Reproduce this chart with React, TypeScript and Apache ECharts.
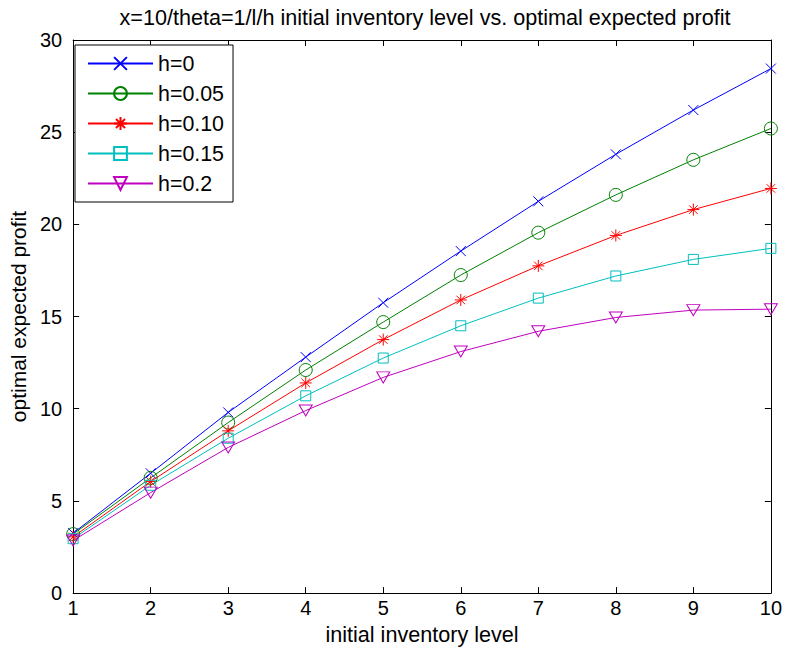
import { useEffect, useRef } from 'react';
import * as echarts from 'echarts';

const inventoryLevels = [1, 2, 3, 4, 5, 6, 7, 8, 9, 10];
const seriesNames = ['h=0', 'h=0.05', 'h=0.10', 'h=0.15', 'h=0.2'];
const profitH0 = [3.25, 6.5, 9.8, 12.8, 15.75, 18.55, 21.25, 23.8, 26.2, 28.45];
const profitH005 = [3.2, 6.25, 9.25, 12.1, 14.7, 17.25, 19.55, 21.6, 23.5, 25.2];
const profitH010 = [3.05, 6.05, 8.8, 11.4, 13.75, 15.9, 17.75, 19.4, 20.8, 21.95];
const profitH015 = [2.95, 5.85, 8.4, 10.7, 12.75, 14.5, 16.0, 17.2, 18.1, 18.7];
const profitH02 = [2.85, 5.45, 7.9, 9.9, 11.7, 13.1, 14.2, 14.95, 15.35, 15.4];

const FONT = 'Liberation Sans, Arial, sans-serif';

const X_SYM = 'path://M0,0L10,10M10,0L0,10';
const STAR_SYM = 'path://M5,0L5,10M0,5L10,5M1.46,1.46L8.54,8.54M8.54,1.46L1.46,8.54';
const TRI_SYM = 'path://M0,0L12,0L6,10.4Z';

export default function App() {
  const ref = useRef<HTMLDivElement>(null);
  useEffect(() => {
    const chart = echarts.init(ref.current!, null, { renderer: 'svg' });
    const allValues = [profitH0, profitH005, profitH010, profitH015, profitH02];
    const colors = ['#0000ff', '#008000', '#ff0000', '#00bfbf', '#bf00bf'];
    const symbols = [X_SYM, 'circle', STAR_SYM, 'rect', TRI_SYM];
    const sizes: any[] = [[10, 10], 13, [12, 12], 10, [13, 11]];
    const series = allValues.map((vals, i) => ({
      type: 'line',
      name: seriesNames[i],
      data: inventoryLevels.map((x, j) => [x, vals[j]]),
      symbol: symbols[i],
      symbolSize: sizes[i],
      showSymbol: true,
      showAllSymbol: true,
      lineStyle: { color: colors[i], width: 1 },
      itemStyle: { color: 'rgba(0,0,0,0)', borderColor: colors[i], borderWidth: 1 },
      emphasis: { disabled: true },
      xAxisIndex: 0,
      yAxisIndex: 0,
    }));
    const axisLine = { show: true, onZero: false, lineStyle: { color: '#000', width: 1 } };
    const axisTick = { show: true, inside: true, length: 6, lineStyle: { color: '#000', width: 1 } };
    chart.setOption({
      animation: false,
      backgroundColor: '#fff',
      title: {
        text: 'x=10/theta=1/l/h initial inventory level vs. optimal expected profit',
        left: 420,
        textAlign: 'center',
        top: 1,
        textStyle: { fontSize: 21.6, fontWeight: 'normal', color: '#000', fontFamily: FONT },
      },
      grid: { left: 67, right: 13.5, top: 40, bottom: 56.5, containLabel: false },
      legend: {
        left: 75,
        top: 45,
        orient: 'vertical',
        backgroundColor: '#fff',
        borderColor: '#000',
        borderWidth: 1,
        borderRadius: 0,
        padding: [8, 9, 8, 12],
        itemWidth: 65,
        itemHeight: 16,
        itemGap: 9,
        textStyle: { fontSize: 21.4, color: '#000', fontFamily: FONT },
        data: seriesNames,
      },
      xAxis: [
        {
          type: 'value', min: 1, max: 10, interval: 1, position: 'bottom',
          axisLine, axisTick,
          axisLabel: { color: '#000', fontSize: 20, margin: 5, fontFamily: FONT },
          splitLine: { show: false },
          name: 'initial inventory level', nameLocation: 'middle', nameGap: 29,
          nameTextStyle: { fontSize: 21.6, color: '#000', fontFamily: FONT },
        },
        {
          type: 'value', min: 1, max: 10, interval: 1, position: 'top',
          axisLine, axisTick, axisLabel: { show: false }, splitLine: { show: false },
        },
      ],
      yAxis: [
        {
          type: 'value', min: 0, max: 30, interval: 5, position: 'left',
          axisLine, axisTick,
          axisLabel: { color: '#000', fontSize: 20, margin: 11, fontFamily: FONT },
          splitLine: { show: false },
          name: 'optimal expected profit', nameLocation: 'middle', nameGap: 40,
          nameTextStyle: { fontSize: 21, color: '#000', fontFamily: FONT },
        },
        {
          type: 'value', min: 0, max: 30, interval: 5, position: 'right',
          axisLine, axisTick, axisLabel: { show: false }, splitLine: { show: false },
        },
      ],
      series,
    });
    return () => chart.dispose();
  }, []);
  return <div ref={ref} style={{ width: 785, height: 650, position: 'fixed', left: 0, top: 0 }} />;
}
